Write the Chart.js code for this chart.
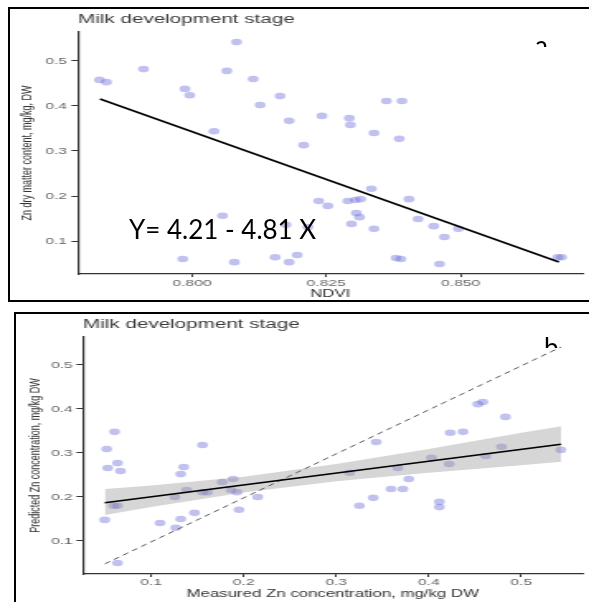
<!DOCTYPE html>
<html lang="en">
<head>
  <meta charset="UTF-8" />
  <title>Milk development stage - Zn vs NDVI</title>
  <script src="https://cdn.jsdelivr.net/npm/chart.js@4"></script>
  <style>
    body { margin: 0; background: #fff; }
    #page { position: relative; width: 589px; height: 602px; overflow: hidden; background: #fff; }
    /* the source figure is an R plot squeezed sideways, so both charts are stretched in x */
    .stretch { position: absolute; left: 0; transform: scaleX(1.65); transform-origin: 0 0; }
    .frame { position: absolute; border: 2px solid #000; pointer-events: none; }
    .note { position: absolute; font-family: Lato, sans-serif; color: #000; line-height: 1; white-space: nowrap; }
    .clip { position: absolute; overflow: hidden; }
  </style>
</head>
<body>
  <div id="page">
    <canvas id="chartA" class="stretch" style="top:0" width="357" height="300"></canvas>
    <canvas id="chartB" class="stretch" style="top:304px" width="357" height="298"></canvas>
    <div class="frame" style="left:8px; top:7px; width:600px; height:291px;"></div>
    <div class="frame" style="left:14px; top:312px; width:600px; height:320px;"></div>
    <div class="note" style="left:129px; top:216px; font-size:26px;">Y= 4.21 - 4.81 X</div>
    <div class="clip" style="left:533px; top:30px; width:20px; height:17px;"><span class="note" style="left:2px; top:2px; font-size:26px;">a</span></div>
    <div class="clip" style="left:542px; top:330px; width:20px; height:18px;"><span class="note" style="left:2px; top:4px; font-size:26px;">b</span></div>
  </div>

  <script>
    // panel a: Zn dry matter content against NDVI
    const ndviA = [0.7828, 0.7841, 0.7910, 0.7987, 0.7996, 0.8065, 0.8083, 0.8114, 0.8127, 0.8164,
                   0.8181, 0.8041, 0.8208, 0.8242, 0.8362, 0.8391, 0.8293, 0.8295, 0.8339, 0.8386,
                   0.8334, 0.8404, 0.8236, 0.8253, 0.8290, 0.8304, 0.8314, 0.8306, 0.8312, 0.8297,
                   0.8339, 0.8421, 0.8450, 0.8470, 0.8496, 0.8057, 0.8175, 0.8216, 0.7983, 0.8079,
                   0.8155, 0.8181, 0.8196, 0.8380, 0.8389, 0.8461, 0.8681, 0.8688];
    const znA = [0.458, 0.453, 0.482, 0.438, 0.424, 0.478, 0.542, 0.460, 0.402, 0.422,
                 0.367, 0.344, 0.313, 0.378, 0.411, 0.411, 0.373, 0.358, 0.340, 0.327,
                 0.216, 0.193, 0.189, 0.178, 0.189, 0.191, 0.193, 0.162, 0.153, 0.138,
                 0.127, 0.149, 0.133, 0.109, 0.127, 0.156, 0.136, 0.131, 0.060, 0.053,
                 0.064, 0.053, 0.069, 0.062, 0.060, 0.049, 0.064, 0.064];
    const fitAX = [0.7829, 0.8683];
    const fitAY = [0.4156, 0.0533];
    const xTicksA = [0.800, 0.825, 0.850];
    const xLabelsA = ['0.800', '0.825', '0.850'];
    const yTicksA = [0.1, 0.2, 0.3, 0.4, 0.5];
    const yLabelsA = ['0.1', '0.2', '0.3', '0.4', '0.5'];

    // panel b: predicted against measured Zn
    const measuredB = [0.0605, 0.0520, 0.1555, 0.0637, 0.0531, 0.0669, 0.1352, 0.1320, 0.0595, 0.0637,
                       0.0499, 0.1096, 0.1267, 0.1320, 0.1469, 0.0637, 0.1256, 0.1384, 0.1555, 0.1608,
                       0.1768, 0.1885, 0.1864, 0.1928, 0.1949, 0.2152, 0.3432, 0.4232, 0.4371, 0.4531,
                       0.4584, 0.4829, 0.5427, 0.4787, 0.4616, 0.4029, 0.4221, 0.3667, 0.3144, 0.3784,
                       0.3592, 0.3720, 0.3400, 0.3251, 0.4115, 0.4115];
    const predictedB = [0.348, 0.309, 0.318, 0.277, 0.266, 0.259, 0.268, 0.252, 0.180, 0.180,
                        0.148, 0.141, 0.130, 0.150, 0.164, 0.050, 0.200, 0.216, 0.211, 0.211,
                        0.234, 0.241, 0.216, 0.211, 0.171, 0.200, 0.325, 0.346, 0.348, 0.411,
                        0.416, 0.382, 0.307, 0.314, 0.293, 0.289, 0.275, 0.266, 0.255, 0.241,
                        0.218, 0.218, 0.198, 0.180, 0.189, 0.177];
    const fitBX = [0.05, 0.543];
    const fitBY = [0.187, 0.320];
    const oneToOneX = [0.05, 0.543];
    const oneToOneY = [0.048, 0.541];
    const bandX = [0.05, 0.1, 0.2, 0.3, 0.4, 0.5, 0.543];
    const bandUpper = [0.218, 0.226, 0.246, 0.275, 0.309, 0.346, 0.361];
    const bandLower = [0.159, 0.177, 0.210, 0.236, 0.255, 0.272, 0.280];
    const xTicksB = [0.1, 0.2, 0.3, 0.4, 0.5];
    const xLabelsB = ['0.1', '0.2', '0.3', '0.4', '0.5'];
    const yTicksB = [0.1, 0.2, 0.3, 0.4, 0.5];
    const yLabelsB = ['0.1', '0.2', '0.3', '0.4', '0.5'];

    const FONT = '"Liberation Sans", Arial, sans-serif';
    const POINT = 'rgba(100, 100, 215, 0.4)';

    const pts = (xs, ys) => xs.map((x, i) => ({ x: x, y: ys[i] }));

    function xScale(min, max, ticks, labels, title, height, tickPad, titlePad) {
      return {
        type: 'linear', min: min, max: max,
        afterBuildTicks: s => { s.ticks = ticks.map(v => ({ value: v })); },
        afterFit: s => { s.height = height; },
        grid: { drawOnChartArea: false, drawTicks: true, tickLength: 3, color: '#333' },
        border: { display: true, color: '#333', width: 1.2 },
        ticks: { callback: (v, i) => labels[i], autoSkip: false, maxRotation: 0, padding: tickPad,
                 color: '#666', font: { family: FONT, size: 9.5, lineHeight: 1 } },
        title: { display: true, text: title, color: '#333', padding: { top: 0, bottom: titlePad },
                 font: { family: FONT, size: 10.2, lineHeight: 1.2 } }
      };
    }

    function yScale(min, max, ticks, labels, title, width, tickPad, titlePad) {
      return {
        type: 'linear', min: min, max: max,
        afterBuildTicks: s => { s.ticks = ticks.map(v => ({ value: v })); },
        afterFit: s => { s.width = width; },
        grid: { drawOnChartArea: false, drawTicks: true, tickLength: 4, color: '#333' },
        border: { display: true, color: '#333', width: 1.2 },
        ticks: { callback: (v, i) => labels[i], autoSkip: false, padding: tickPad,
                 color: '#666', font: { family: FONT, size: 9.5, lineHeight: 1 } },
        title: { display: true, text: title, color: '#333', padding: { top: titlePad, bottom: 0 },
                 font: { family: FONT, size: 9, lineHeight: 1.2 } }
      };
    }

    function titleOpts(padTop, padBottom) {
      return {
        display: true, text: 'Milk development stage', align: 'start', fullSize: false,
        color: '#3a3a3a', font: { family: FONT, size: 12.5, weight: 'normal', lineHeight: 1.2 },
        padding: { top: padTop, bottom: padBottom }
      };
    }

    new Chart(document.getElementById('chartA'), {
      type: 'scatter',
      data: {
        datasets: [
          { data: pts(fitAX, fitAY), showLine: true, borderColor: '#000', borderWidth: 1.6, pointRadius: 0, order: 0 },
          { data: pts(ndviA, znA), backgroundColor: POINT, borderWidth: 0, pointRadius: 3.3, order: 1 }
        ]
      },
      options: {
        responsive: false, animation: false, events: [],
        layout: { padding: 0 },
        plugins: { legend: { display: false }, tooltip: { enabled: false }, title: titleOpts(12.5, 4.5) },
        scales: {
          x: xScale(0.7788, 0.8727, xTicksA, xLabelsA, 'NDVI', 26, 1.2, 0),
          y: yScale(0.0267, 0.5644, yTicksA, yLabelsA, 'Zn dry matter content, mg/kg, DW', 47.3, 2.7, 11.3)
        }
      }
    });

    new Chart(document.getElementById('chartB'), {
      type: 'scatter',
      data: {
        datasets: [
          { data: pts(fitBX, fitBY), showLine: true, borderColor: '#000', borderWidth: 1.6, pointRadius: 0, order: 0 },
          { data: pts(oneToOneX, oneToOneY), showLine: true, borderColor: '#555', borderWidth: 1,
            borderDash: [4, 3], pointRadius: 0, order: 0 },
          { data: pts(bandX, bandUpper), showLine: true, borderColor: 'rgba(0,0,0,0)', pointRadius: 0,
            fill: '+1', backgroundColor: 'rgba(153, 153, 153, 0.4)', order: 1 },
          { data: pts(bandX, bandLower), showLine: true, borderColor: 'rgba(0,0,0,0)', pointRadius: 0,
            fill: false, order: 1 },
          { data: pts(measuredB, predictedB), backgroundColor: POINT, borderWidth: 0, pointRadius: 3.3, order: 2 }
        ]
      },
      options: {
        responsive: false, animation: false, events: [],
        layout: { padding: 0 },
        plugins: { legend: { display: false }, tooltip: { enabled: false }, title: titleOpts(13.5, 4.5) },
        scales: {
          x: xScale(0.0264, 0.5661, xTicksB, xLabelsB, 'Measured Zn concentration, mg/kg DW', 28, 0.8, 1.8),
          y: yScale(0.025, 0.5636, yTicksB, yLabelsB, 'Predicted Zn concentration, mg/kg DW', 50.3, 2.2, 16.1)
        }
      }
    });
  </script>
</body>
</html>
